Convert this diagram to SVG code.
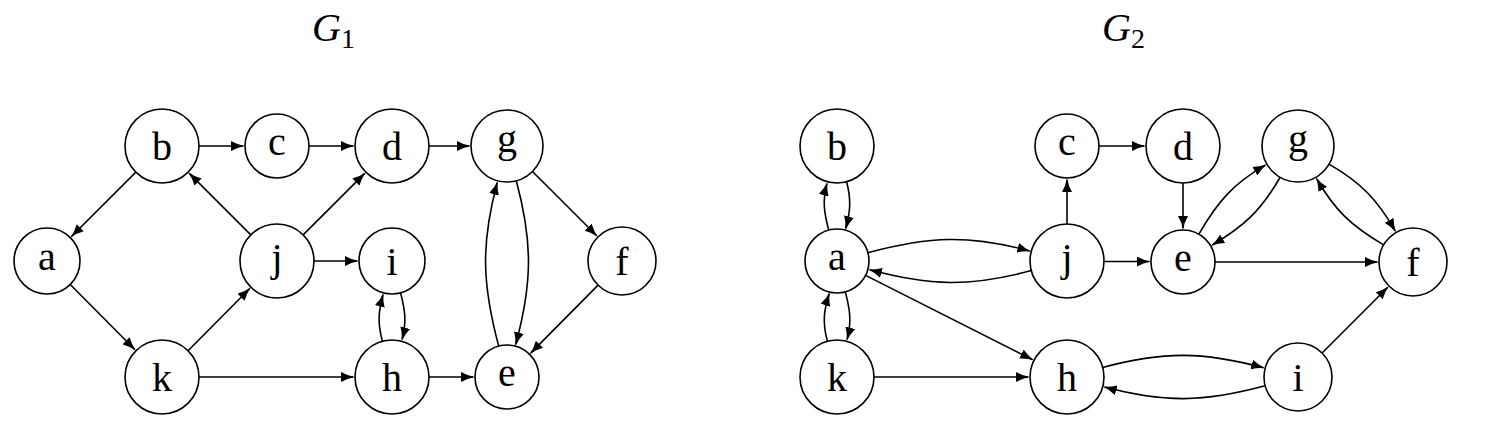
<svg xmlns="http://www.w3.org/2000/svg" width="1487" height="432" viewBox="0 0 1487 432">
<defs>
<marker id="arr" markerUnits="userSpaceOnUse" viewBox="0 0 14 10" markerWidth="14" markerHeight="10" refX="12" refY="5" orient="auto">
<path d="M0,0 Q6,3.6 14,5 Q6,6.4 0,10 Z" fill="#000"/>
</marker>
</defs>
<style>
.n circle{fill:#fff;stroke:#000;stroke-width:1.6}
.n text{font-family:"Liberation Serif","DejaVu Serif",serif;font-size:40px;text-anchor:middle;fill:#000}
.e path{fill:none;stroke:#000;stroke-width:1.6;marker-end:url(#arr)}
.t{font-family:"Liberation Serif","DejaVu Serif",serif;font-size:40px;fill:#000}
</style>
<rect width="1487" height="432" fill="#fff"/>
<text class="t" x="312" y="41"><tspan font-style="italic">G</tspan><tspan font-size="28" dy="7">1</tspan></text>
<text class="t" x="1102" y="41"><tspan font-style="italic">G</tspan><tspan font-size="28" dy="7">2</tspan></text>

<g id="g1-edges" class="e">
<path d="M199,146 L243,146"/>
<path d="M309,146 L353,146"/>
<path d="M429,146 L469,146"/>
<path d="M135.84,172.16 L71.74,236.26"/>
<path d="M70.23,284.44 L134.54,349.3"/>
<path d="M188.05,350.72 L249.54,288.7"/>
<path d="M250.84,234.84 L189.57,173.57"/>
<path d="M303.16,234.84 L364.43,173.57"/>
<path d="M314,261 L357,261"/>
<path d="M199,377 L353,377"/>
<path d="M429,377 L473,377"/>
<path d="M532.46,171.46 L596.54,235.54"/>
<path d="M598.06,285.15 L530.94,352.85"/>
<path d="M382.4,341.3 C377.4,322.7 378.5,311.5 382.94,294.81"/>
<path d="M400.54,292.88 C405.46,311.2 406.5,322.9 402.1,339.33"/>
<path d="M498.7,346.1 C482,283.6 480.9,243.3 497.2,182.7"/>
<path d="M516.3,180.8 C533.1,243.3 532.1,283.6 515.8,344.2"/>
</g>

<g id="g2-edges" class="e">
<path d="M828.7,230.1 C823.8,211.8 822.5,200 826.9,183.6"/>
<path d="M846.6,181.7 C851.5,200 850.2,211.8 845.8,228.2"/>
<path d="M827.4,341.3 C822.4,322.7 823.7,310.5 829.2,293.8"/>
<path d="M845.3,291.9 C850.3,310.5 851.6,322.7 847.1,339.4"/>
<path d="M867.9,252.7 C929.7,236.1 969.5,234.8 1029.4,250.9"/>
<path d="M1031.3,270.6 C969.5,287.2 929.7,285.9 869.8,269.8"/>
<path d="M865.57,275.41 L1032.18,359.44"/>
<path d="M874,377 L1028,377"/>
<path d="M1067,224 L1067,180"/>
<path d="M1104,261.5 L1149,261.5"/>
<path d="M1099,146 L1144,146"/>
<path d="M1183,183 L1183,228"/>
<path d="M1215,262 L1377,262"/>
<path d="M1198.88,234.22 C1217.8,201.1 1233.9,183.4 1265.17,165.15"/>
<path d="M1280.14,177.26 C1261.2,210.4 1243.6,226.6 1212.37,244.87"/>
<path d="M1329.1,164.14 C1361.5,183 1377.5,199.9 1395.14,230.74"/>
<path d="M1383.63,244.87 C1351.2,226 1334.5,209.8 1316.85,178.99"/>
<path d="M1102.7,367.4 C1164.1,350.9 1203.8,351.7 1263.3,367.7"/>
<path d="M1265.2,385.8 C1203.8,402.3 1164.1,403.1 1104.6,387.1"/>
<path d="M1322.04,352.96 L1387.55,287.45"/>
</g>

<g id="g1-a" class="n"><circle cx="47" cy="261" r="33"/><text x="47" y="270">a</text></g>
<g id="g1-b" class="n"><circle cx="162" cy="146" r="37"/><text x="162" y="160">b</text></g>
<g id="g1-c" class="n"><circle cx="277" cy="146" r="32"/><text x="277" y="155">c</text></g>
<g id="g1-d" class="n"><circle cx="392" cy="146" r="37"/><text x="392" y="160">d</text></g>
<g id="g1-g" class="n"><circle cx="507" cy="146" r="36"/><text x="507" y="152">g</text></g>
<g id="g1-j" class="n"><circle cx="277" cy="261" r="37"/><text x="277" y="271">j</text></g>
<g id="g1-i" class="n"><circle cx="392" cy="261" r="33"/><text x="392" y="274.5">i</text></g>
<g id="g1-f" class="n"><circle cx="622" cy="261" r="34"/><text x="622" y="275">f</text></g>
<g id="g1-k" class="n"><circle cx="162" cy="377" r="37"/><text x="162" y="391">k</text></g>
<g id="g1-h" class="n"><circle cx="392" cy="377" r="37"/><text x="392" y="391">h</text></g>
<g id="g1-e" class="n"><circle cx="507" cy="377" r="32"/><text x="507" y="386">e</text></g>

<g id="g2-b" class="n"><circle cx="837" cy="146" r="37"/><text x="837" y="160">b</text></g>
<g id="g2-a" class="n"><circle cx="837" cy="261" r="32"/><text x="837" y="270">a</text></g>
<g id="g2-k" class="n"><circle cx="837" cy="377" r="37"/><text x="837" y="391">k</text></g>
<g id="g2-c" class="n"><circle cx="1067" cy="146" r="32"/><text x="1067" y="155">c</text></g>
<g id="g2-j" class="n"><circle cx="1067" cy="261" r="37"/><text x="1067" y="271">j</text></g>
<g id="g2-h" class="n"><circle cx="1067" cy="377" r="37"/><text x="1067" y="391">h</text></g>
<g id="g2-d" class="n"><circle cx="1183" cy="146" r="37"/><text x="1183" y="160">d</text></g>
<g id="g2-e" class="n"><circle cx="1183" cy="262" r="32"/><text x="1183" y="271">e</text></g>
<g id="g2-g" class="n"><circle cx="1298" cy="146" r="36"/><text x="1298" y="152">g</text></g>
<g id="g2-f" class="n"><circle cx="1413" cy="262" r="34"/><text x="1413" y="276">f</text></g>
<g id="g2-i" class="n"><circle cx="1298" cy="377" r="34"/><text x="1298" y="390.5">i</text></g>
</svg>
